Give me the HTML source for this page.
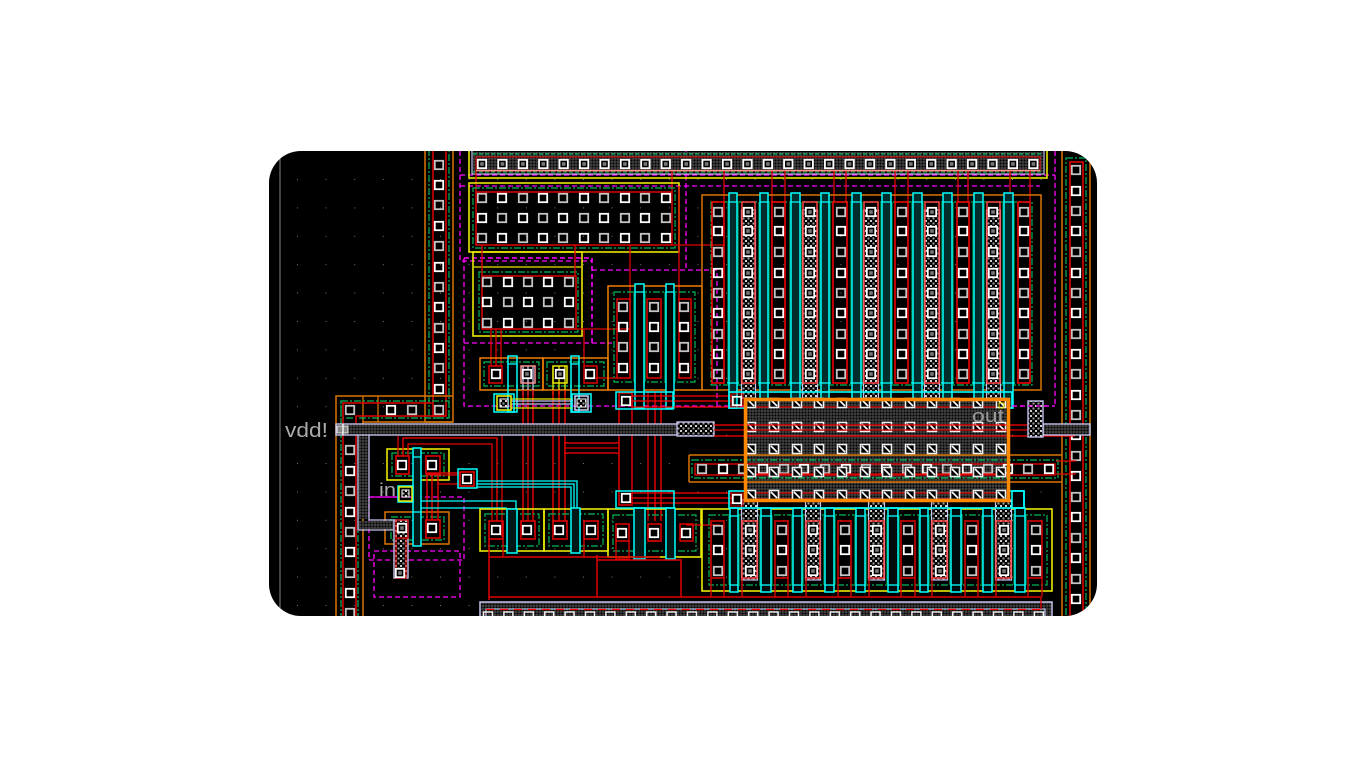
<!DOCTYPE html>
<html><head><meta charset="utf-8"><style>html,body{margin:0;padding:0;background:#fff;width:1366px;height:768px;overflow:hidden}svg{display:block}</style></head>
<body>
<svg xmlns="http://www.w3.org/2000/svg" width="1366" height="768" viewBox="0 0 1366 768">
<defs>
<clipPath id="clip"><rect x="269" y="151" width="828" height="465" rx="32" ry="32"/></clipPath>
<pattern id="hatch" width="3" height="3" patternUnits="userSpaceOnUse"><rect width="3" height="3" fill="#5c5c5c"/><rect x="0.4" y="0.4" width="2.2" height="2.2" fill="#000"/></pattern>
<pattern id="hatch2" width="5" height="5" patternUnits="userSpaceOnUse"><rect width="5" height="5" fill="#000"/><rect x="0" y="0" width="2" height="2" fill="#d0d0d0"/><rect x="2.5" y="2.5" width="2" height="2" fill="#a0a0a0"/></pattern>
</defs>
<g clip-path="url(#clip)">
<rect x="269" y="151" width="828" height="465" fill="#000"/>
<g id="art"></g>
<text x="285" y="437" font-family="'Liberation Sans',sans-serif" font-size="20" fill="#aaa" textLength="43" lengthAdjust="spacingAndGlyphs">vdd!</text>
<text x="379" y="496" font-family="'Liberation Sans',sans-serif" font-size="18" fill="#aaa" textLength="17" lengthAdjust="spacingAndGlyphs">in</text>
<text x="972" y="422" font-family="'Liberation Sans',sans-serif" font-size="18" fill="#999" textLength="32" lengthAdjust="spacingAndGlyphs">out</text>
</g>
</svg>
<script>
var art=document.getElementById('art'),NS='http://www.w3.org/2000/svg';
function E(t,a){var e=document.createElementNS(NS,t);for(var k in a)e.setAttribute(k,a[k]);art.appendChild(e);return e}
var OR='#d87400',BO='#ff8800',RD='#e00000',BR='#ff0000',GR='#00b858',CY='#00ffff',MG='#ff00ff',YL='#e8e800',LV='#c4c4ec',WH='#dcdcdc',GD='7 2 2 2',MD='5 3';
function R(x1,y1,x2,y2,s,w,d,f){var a={x:x1,y:y1,width:x2-x1,height:y2-y1,fill:f||'none'};if(s){a.stroke=s;a['stroke-width']=w||1}if(d)a['stroke-dasharray']=d;return E('rect',a)}
function P(pts,s,w,d){var a={points:pts,fill:'none',stroke:s,'stroke-width':w||1.3};if(d)a['stroke-dasharray']=d;return E('polyline',a)}
function C(x,y,i){var c=(i===undefined||i%2)?'#ffffff':'#c4c4c4';R(x-4.2,y-4.2,x+4.2,y+4.2,c,1.8)}
function H(x,y){R(x-4.2,y-4.2,x+4.2,y+4.2,'#ffffff',1.8,null,'#000');R(x-1.8,y-1.8,x+1.8,y+1.8,null,0,null,'#777')}
function D(x,y){R(x-4.5,y-4.5,x+4.5,y+4.5,'#f0f0f0',1.6,null,'#000');E('line',{x1:x-3,y1:y-3,x2:x+3,y2:y+3,stroke:'#fff','stroke-width':1.6})}
var i,j,x,y;
/* grid dots */
for(x=297;x<1097;x+=28.6)for(y=179;y<616;y+=28.4)R(x,y,x+1,y+1,null,0,null,'#777');
/* left grey line */
E('line',{x1:280,y1:151,x2:280,y2:616,stroke:'#888','stroke-width':1});

/* magenta dashed regions */
P('460,151 460,261 592,261',MG,1.3,MD);
P('460,175 1055,175',MG,1.3,MD);
P('460,186 1040,186',MG,1.3,MD);
P('464,258 592,258 592,343',MG,1.6,MD);
P('464,258 464,406 1055,406',MG,1.3,MD);
P('464,343 612,343',MG,1.3,MD);
P('592,270 717,270 717,405',MG,1.3,MD);
P('686,151 686,270',MG,1.3,MD);
P('1055,151 1055,406',MG,1.3,MD);
R(369,497,464,560,MG,1.3,MD);
R(374,551,460,597,MG,1.3,MD);
P('369,497 398,497',MG,1.2);

/* left upper column */
R(425,148,453,422,OR,1.5);
R(429,148,449,418,GR,1.2,GD);
R(433,148,446,416,RD,1.5);
[165,185,205,226,246,267,287,307,328,348,368,389,410].forEach(function(v,i){C(439,v,i)});

/* left lower column */
P('336,620 336,396 453,396',OR,1.5);
P('363,620 363,422 453,422',OR,1.5);
E('line',{x1:363,y1:396,x2:363,y2:422,stroke:OR,'stroke-width':1.3});E('line',{x1:378,y1:396,x2:378,y2:422,stroke:OR,'stroke-width':1.3});
R(341,401,449,418,GR,1.2,GD);
P('341,620 341,401',GR,1.2,GD);P('358,620 358,436',GR,1.2,GD);
P('343,620 343,403 433,403',RD,1.5);P('356,620 356,416 446,416',RD,1.5);
[410,430,450,471,491,512,532,552,573,593,613].forEach(function(v,i){C(350,v,i)});
C(391,410);C(412,410,0);

/* top strip */
R(469,148,1047,178,YL,1.6);
R(472,148,1044,174,LV,1.2);
R(473,152,1043,172,null,0,null,'url(#hatch)');
P('473,154 1043,154',GR,1.2,'4 2');P('473,172 1043,172',GR,1.2,'4 2');
R(476,157,1040,171,RD,1);
E('line',{x1:476,y1:170.5,x2:1040,y2:170.5,stroke:'#ff9090','stroke-width':1.6});
for(x=482;x<1040;x+=20.42)H(x,164);
/* verticals from top strip */
[724,772,785,834,846,895,908,958,968,1010,1030].forEach(function(v){E('line',{x1:v,y1:171,x2:v,y2:202,stroke:RD,'stroke-width':1.3})});
[476,672].forEach(function(v){E('line',{x1:v,y1:171,x2:v,y2:192,stroke:RD,'stroke-width':1.3})});

/* top-left array */
R(469,183,679,252,YL,1.6,null);
R(473,188,675,248,GR,1.2,GD);
R(476,192,672,245,RD,1.5);
[198,218,238].forEach(function(v,r){[482,502,523,543,563,584,604,625,645,666].forEach(function(u,i){C(u,v,i+r)})});

/* second array */
R(473,252,582,336,YL,1.6);
E('line',{x1:473,y1:267,x2:582,y2:267,stroke:'#c0c000','stroke-width':1.4});
R(479,272,578,332,GR,1.2,GD);
R(482,276,576,329,RD,1.5);
[282,302,323].forEach(function(v,r){[487,508,528,548,569].forEach(function(u,i){C(u,v,i+r)})});

/* wires */
P('482,245 482,276',RD);P('575,245 575,276',RD);P('630,245 630,329 576,329',RD);
P('672,245 724,245',RD);P('679,186 679,300',RD);
P('584,329 584,366',RD);P('590,378 618,378',RD);
[491,496,501].forEach(function(v){P(v+',329 '+v+',366',RD)});

/* small top cells */
R(480,358,543,390,BO,1.4);R(543,358,608,390,BO,1.4);
R(484,362,539,386,GR,1.2,GD);R(547,362,604,386,GR,1.2,GD);
[523,528,533].forEach(function(v){P(v+',366 '+v+',395',LV)});
[553,559,565].forEach(function(v){P(v+',366 '+v+',395',YL)});
R(489,366,502,383,RD,1.5);C(496,374);
R(521,366,535,383,'#ff9090',1.5);H(527,374);
R(553,366,567,383,YL,1.5);H(560,374);
R(584,366,597,383,RD,1.5);C(590,374);
R(508,356,517,412,CY,1.5);R(571,356,579,412,CY,1.5);
E('line',{x1:508,y1:364,x2:517,y2:364,stroke:CY,'stroke-width':1.3});E('line',{x1:571,y1:364,x2:579,y2:364,stroke:CY,'stroke-width':1.3});

/* medium cell */
R(608,286,702,390,BO,1.4);
R(614,292,695,382,GR,1.2,GD);
[[617,630],[647,661],[679,691]].forEach(function(p){R(p[0],299,p[1],378,RD,1.5)});
[623,654,684].forEach(function(u){[307,327,347,368].forEach(function(v,i){C(u,v,i)})});
[[635,644],[666,674]].forEach(function(p){R(p[0]-2,292,p[1]+2,382,null,0,null,'#006030');R(p[0],284,p[1],408,CY,1.5,null,'#000');E('line',{x1:p[0],y1:292,x2:p[1],y2:292,stroke:CY,'stroke-width':1.3})});

/* big PMOS block */
R(702,195,1041,390,OR,1.5);
R(711,202,1032,385,GR,1.2,GD);
var gates=[[729,737],[760,768],[791,800],[821,829],[852,861],[882,891],[913,922],[943,952],[974,983],[1004,1013]];
gates.forEach(function(p){R(p[0]-2,202,p[1]+2,383,null,0,null,'#006030');R(p[0],193,p[1],408,CY,1.5,null,'#002c2c');E('line',{x1:p[0],y1:202,x2:p[1],y2:202,stroke:CY,'stroke-width':1.3});E('line',{x1:p[0]-2,y1:383,x2:p[1]+2,y2:383,stroke:CY,'stroke-width':1.3})});
var strips=[[712,724,718],[742,755,748],[772,785,779],[803,817,810],[833,847,841],[864,878,871],[895,908,902],[925,939,932],[957,969,963],[987,1000,993],[1018,1030,1024]];
var rows=[212,231,252,273,293,313,334,354,374];
strips.forEach(function(s,k){
  if(k%2){R(s[0]-.5,210,s[1]+.5,398,LV,1.2,null,'url(#hatch2)');}
  R(s[0],202,s[1],383,k%2?'#ff4040':BR,1.5);
  rows.forEach(function(v,i){k%2?H(s[2],v):C(s[2],v,i+k)});
});

/* right column */
R(1062,148,1090,620,OR,1.5);
R(1066,158,1086,620,GR,1.2,GD);
R(1070,162,1083,620,RD,1.6);
[170,191,211,231,252,273,293,313,334,354,374,395,415,435,456,476,497,517,538,558,579,599].forEach(function(v,i){C(1076,v,i)});

/* in-between horizontal wires */
[396,401,407].forEach(function(v){P('632,'+v+' 732,'+v,BR)});
[493,498,503].forEach(function(v){P('632,'+v+' 732,'+v,BR)});

/* lower left cells */
R(387,449,449,480,YL,1.6);
R(392,453,444,476,GR,1.2,GD);
R(385,512,449,544,OR,1.5);
R(391,517,444,540,GR,1.2,GD);

/* long red wires */
P('398,436 398,456',RD);P('403,456 403,438 497,438 497,521',BR);
P('408,456 408,444 492,444 492,521',RD);P('502,435 502,537',RD);
[427,432,438].forEach(function(v){P(v+',473 '+v+',520',BR)});
P('427,473 460,473',BR);P('427,475 460,475',RD);P('438,484 460,484',RD);
[523,528,533,553,559,565,648,655,661].forEach(function(v){P(v+',390 '+v+',521',v%2?BR:RD)});
[443,448,453].forEach(function(v){P('564,'+v+' 619,'+v,v==448?RD:BR)});
R(619,393,632,505,RD,1.5);

/* vdd rail */
R(336,424,696,435,LV,1.4,null,'url(#hatch)');
R(337,426,348,433,'#e8e8e8',1,null,'#888');
R(677,422,714,436,LV,1.4,null,'url(#hatch2)');
E('line',{x1:343,y1:424,x2:343,y2:435,stroke:'#eee','stroke-width':1.5});
/* vertical hatched wire */
R(359,436,368,519,null,0,null,'url(#hatch)');R(359,521,394,529,null,0,null,'url(#hatch)');
P('358,435 358,530 394,530',LV,1.3);P('369,435 369,520 394,520',LV,1.3);
R(394,520,408,578,LV,1.4,null,'url(#hatch2)');
R(396,538,406,578,RD,1.2);
H(402,528);H(400,573);

/* lower-left devices */
R(396,456,409,474,RD,1.6);C(402,465);
R(426,456,440,474,RD,1.6);C(432,465);
R(426,520,440,538,RD,1.6);C(432,528);
R(396,520,408,538,RD,1.2);
R(413,448,421,546,CY,1.5,null,'#001818');
E('line',{x1:413,y1:457,x2:421,y2:457,stroke:CY,'stroke-width':1.3});E('line',{x1:413,y1:512,x2:421,y2:512,stroke:CY,'stroke-width':1.3});
R(398,486,413,502,CY,1.5);R(399,487,412,501,YL,1.5);R(402,490,409,497,'#fff',1,null,'url(#hatch2)');
/* contact 467,479 */
R(458,469,477,488,CY,1.5);R(460,472,474,486,RD,1.6);C(467,479);
/* cyan wires */
P('477,481 577,481 577,509',CY,1.3);P('477,484 574,484 574,509',CY,1.3);P('477,487 571,487 571,509',CY,1.3);
P('421,501 516,501 516,509',CY,1.3);P('421,508 507,508',CY,1.3);

/* lower cells */
R(480,509,544,551,YL,1.6);R(544,509,608,551,YL,1.6);R(608,509,701,557,YL,1.6);
R(485,514,539,546,GR,1.2,GD);R(549,514,603,546,GR,1.2,GD);R(613,515,696,551,GR,1.2,GD);
R(507,509,517,553,CY,1.5,null,'#001818');R(571,508,580,553,CY,1.5,null,'#001818');
[[489,503,496],[521,535,527],[553,567,559],[584,598,591]].forEach(function(s){R(s[0],521,s[1],539,RD,1.6);C(s[2],530)});
[[616,629,622],[648,661,654],[680,693,686]].forEach(function(s){R(s[0],524,s[1],541,RD,1.5);C(s[2],533)});
R(634,508,645,559,CY,1.5,null,'#001818');R(666,508,675,559,CY,1.5,null,'#001818');
P('616,541 616,559 629,559 629,541',RD);P('648,541 661,541',RD);

/* lower red net */
P('489,539 489,600',RD,1.5);P('489,557 660,557',RD,1.5);P('503,539 503,557',RD);P('584,539 584,557',RD);
P('597,555 597,597',RD,1.5);P('597,560 681,560 681,597',RD,1.5);
P('489,597 1041,597',RD,1.6);
P('686,525 720,525',RD);

/* lower NMOS */
R(702,509,1052,591,YL,1.6);
R(709,515,1047,585,GR,1.2,GD);
var g2=[[730,738],[761,771],[793,802],[825,834],[856,865],[888,898],[920,928],[951,961],[983,992],[1015,1025]];
g2.forEach(function(p){R(p[0]-2,515,p[1]+2,585,null,0,null,'#006030');R(p[0],508,p[1],592,CY,1.5,null,'#000c0c');E('line',{x1:p[0],y1:516,x2:p[1],y2:516,stroke:CY,'stroke-width':1.3});E('line',{x1:p[0],y1:585,x2:p[1],y2:585,stroke:CY,'stroke-width':1.3})});
var s2=[[711,724,718],[742,757,750],[775,788,782],[806,820,813],[838,851,845],[869,884,877],[901,915,908],[932,947,940],[965,978,972],[996,1011,1004],[1028,1042,1036]];
s2.forEach(function(s,k){
  if(k%2){R(s[0]-.5,500,s[1]+.5,580,LV,1.2,null,'url(#hatch2)');}
  R(s[0],521,s[1],578,k%2?'#ff4040':RD,1.5);
  [530,550,571].forEach(function(v,i){k%2?H(s[2],v):C(s[2],v,i+k)});
  P(s[0]+',578 '+s[0]+',597',RD);if(!(k%2))P(s[1]+',578 '+s[1]+',597',RD);
});

/* bottom rail */
R(480,602,1052,620,LV,1.5,null,'url(#hatch)');
R(486,609,1045,622,LV,1.2);
E('line',{x1:486,y1:609.5,x2:1045,y2:609.5,stroke:BR,'stroke-width':1.2,'stroke-dasharray':'8 6'});
for(x=488;x<1045;x+=20.4)R(x-4.5,612,x+4.5,622,'#f0f0f0',1.5);
P('1041,597 1041,609',RD);

/* central cyan frames */
R(729,392,1012,408,CY,1.6);
R(729,491,1024,508,CY,1.6);
R(1012,491,1024,508,CY,1.6);
C(737,401);C(737,499);
R(731,394,743,407,BR,0.8);R(731,493,743,506,BR,0.8);

/* central strip and block */
R(744,398,1010,502,null,0,null,'url(#hatch)');
P('689,455 1062,455',OR,1.5);P('689,482 1062,482',OR,1.5);P('689,455 689,482',OR,1.5);
R(692,460,1058,478,GR,1.2,GD);
R(695,464,1055,475,RD,1.4);
[702,723,743,763,784,804,825,846,866,886,907,927,947,967,988,1008,1028,1049].forEach(function(u,i){C(u,469,i)});
[407,493,499,474].forEach(function(v){P('744,'+v+' 1010,'+v,RD)});
[751,774,797,819,842,865,887,910,932,955,978,1001].forEach(function(u){[403,427,449,472,495].forEach(function(v){D(u,v)})});
[425,430,436].forEach(function(v){P('714,'+v+' 1075,'+v,v==430?RD:BR)});
P('1056,461 1076,461',RD);P('1056,474 1076,474',RD);
R(745.5,399.5,1008.5,500.5,BO,3.5);
R(999,403,1004,408,YL,1);

/* right via */
R(1043,424,1090,435,LV,1.4,null,'url(#hatch)');
R(1028,401,1043,437,LV,1.4,null,'url(#hatch2)');
E('line',{x1:1012,y1:406,x2:1055,y2:406,stroke:MG,'stroke-width':1.3,'stroke-dasharray':'5 3'});

/* top via pair */
P('511,399 573,399',YL,1.2);P('511,408 573,408',YL,1.2);P('511,401 573,401',LV,1.2);P('511,404 573,404',LV,1.2);
R(494,394,514,412,CY,1.5);R(497,396,511,410,YL,1.6);R(500,399,508,407,'#fff',1,null,'url(#hatch2)');
R(572,394,591,412,CY,1.5);R(575,396,588,410,LV,1.6);R(577,399,586,407,'#fff',1,null,'url(#hatch2)');
R(616,392,673,409,CY,1.5);C(626,401);
R(616,491,674,508,CY,1.5);C(626,498);
</script>
</body></html>
